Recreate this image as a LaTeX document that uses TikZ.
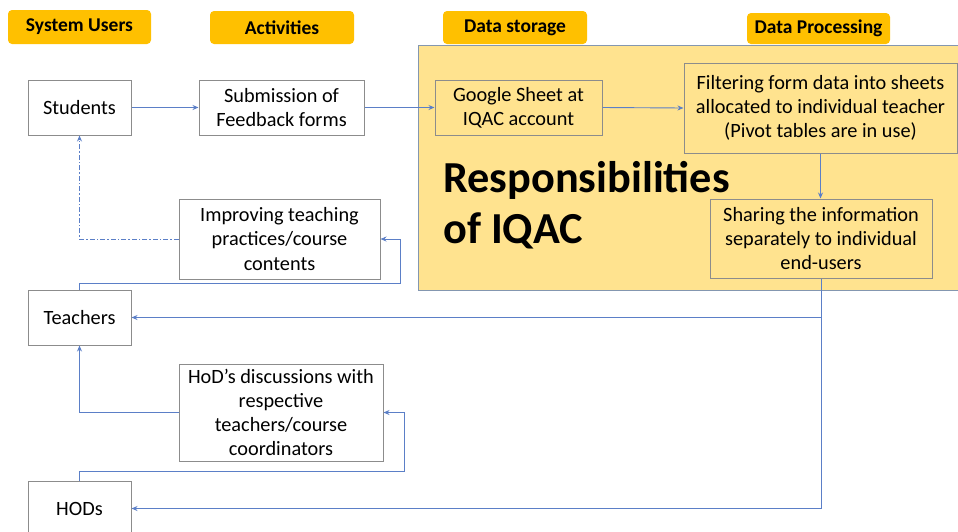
\documentclass[tikz,border=0pt]{standalone}
\usepackage{fontspec}
\setmainfont{Carlito}
\usetikzlibrary{arrows.meta}
\definecolor{hdr}{HTML}{FFC000}
\definecolor{pale}{HTML}{FFE38F}
\definecolor{ln}{HTML}{5B7FC7}
\definecolor{bx}{HTML}{8C8C8C}
\definecolor{bigb}{HTML}{8497B0}
\begin{document}
\begin{tikzpicture}[x=1pt,y=-1pt,
 hdrbox/.style={fill=hdr, rounded corners=4pt, inner sep=0pt, font=\fontsize{19.5}{22}\selectfont\bfseries},
 box/.style={draw=bx, line width=1pt, inner sep=0pt, align=center, font=\fontsize{20.3}{24.2}\selectfont},
 conn/.style={draw=ln, line width=0.9pt, -{Stealth[length=6pt,width=5pt]}},
]
\useasboundingbox (0,0) rectangle (958,531);
\clip (0,0) rectangle (958,531);
\fill[white] (0,0) rectangle (958,531);
% big IQAC area
\draw[fill=pale, draw=bigb, line width=1pt] (418,45) rectangle (975,290);
\node[anchor=north west, align=left, inner sep=0pt, font=\fontsize{44.3}{51}\selectfont\bfseries] (resp) at (443,161) {Responsibilities\\of IQAC};
% headers
\node[hdrbox, minimum width=143, minimum height=34] (h1) at (79.5,27) {System Users};
\node[hdrbox, minimum width=144, minimum height=33] (h2) at (282,27.5) {Activities};
\node[hdrbox, minimum width=144, minimum height=33] (h3) at (515,27.5) {Data storage};
\node[hdrbox, minimum width=143, minimum height=31] (h4) at (818.5,28.5) {Data Processing};
% boxes
\node[box, fill=white, minimum width=103, minimum height=55] (stu) at (79.5,107.5) {Students};
\node[box, fill=white, minimum width=165, minimum height=55] (sub) at (281.5,107.5) {Submission of\\Feedback forms};
\node[box, minimum width=167, minimum height=55] (goo) at (518.5,107.5) {Google Sheet at\\IQAC account};
\node[box, minimum width=273, minimum height=90] (fil) at (820.5,108) {Filtering form data into sheets\\allocated to individual teacher\\(Pivot tables are in use)};
\node[box, minimum width=222, minimum height=79] (sha) at (821,238.5) {Sharing the information\\separately to individual\\end-users};
\node[box, fill=white, minimum width=201, minimum height=80] (imp) at (279.5,239) {Improving teaching\\practices/course\\contents};
\node[box, fill=white, minimum width=103, minimum height=55] (tea) at (79.5,317.5) {Teachers};
\node[box, fill=white, minimum width=204, minimum height=97] (hod) at (281,412.5) {HoD’s discussions with\\respective\\teachers/course\\coordinators};
\node[box, fill=white, minimum width=103, minimum height=55] (hods) at (79.5,508.5) {HODs};
% connectors
\draw[conn] (stu.east) -- (sub.west);
\draw[conn] (sub.east) -- (goo.west);
\draw[conn] (goo.east) -- (fil.west);
\draw[conn] (fil.south) -- (fil.south |- sha.north);
\coordinate (j1) at (sha.south |- tea.east);
\coordinate (j2) at (sha.south |- hods.east);
\draw[conn] (sha.south) -- (j1) -- (tea.east);
\draw[conn] (j1) -- (j2) -- (hods.east);
\draw[conn] (tea.north) -- ++(0,-6) -| ([xshift=20pt]imp.east) -- (imp.east);
\draw[conn, dash pattern=on 5pt off 2pt on 1.5pt off 2pt] (imp.west) -| (stu.south);
\draw[conn] (hod.west) -| (tea.south);
\draw[conn] (hods.north) -- ++(0,-9) -| ([xshift=21pt]hod.east) -- (hod.east);
\end{tikzpicture}
\end{document}
